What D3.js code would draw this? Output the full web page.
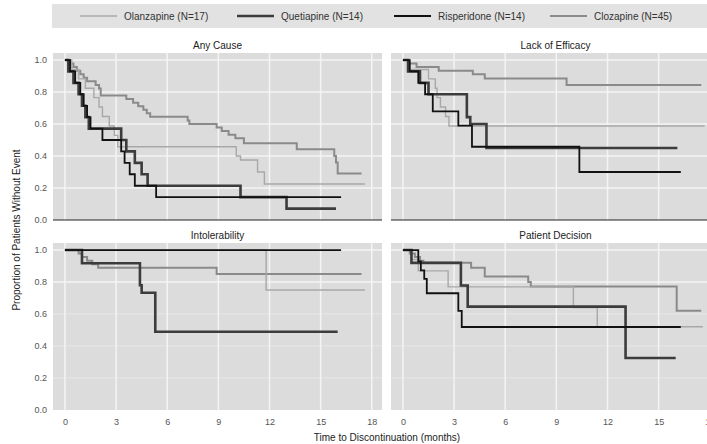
<!DOCTYPE html>
<html>
<head>
<meta charset="utf-8">
<style>
  body { margin: 0; background: #fff; }
  text { font-family: "Liberation Sans", Arial, sans-serif; }
  .tick text { fill: #555; font-size: 9px; }
</style>
</head>
<body>
<svg id="chart" width="707" height="444"></svg>
<script src="https://cdn.jsdelivr.net/npm/d3@7"></script>
<script>
// series (legend order) and panel titles
const drugs = ["Olanzapine (N=17)", "Quetiapine (N=14)", "Risperidone (N=14)", "Clozapine (N=45)"]
const drugColors = ["#a8a8a8", "#3c3c3c", "#111111", "#8a8a8a"]
const drugWidths = [1.4, 2.6, 1.8, 2]
const panelTitles = ["Any Cause", "Lack of Efficacy", "Intolerability", "Patient Decision"]
const xTicks = [0, 3, 6, 9, 12, 15, 18]
const yTicks = [0, 0.2, 0.4, 0.6, 0.8, 1.0]

// Kaplan-Meier steps [months, proportion]; last point = end of follow-up
const anyOlz = [[0,1],[0.4,0.941],[0.8,0.882],[1.2,0.824],[1.7,0.765],[2.0,0.706],[2.2,0.647],[2.6,0.588],[2.9,0.529],[3.1,0.458],[10.05,0.40],[10.3,0.375],[11.3,0.30],[11.7,0.225],[17.6,0.225]]
const anyQue = [[0,1],[0.2,0.929],[0.5,0.857],[0.8,0.786],[1.0,0.714],[1.2,0.643],[1.4,0.571],[3.3,0.50],[3.6,0.429],[4.1,0.357],[4.5,0.286],[4.85,0.214],[10.3,0.143],[13.0,0.071],[15.9,0.071]]
const anyRis = [[0,1],[0.3,0.929],[0.6,0.857],[0.9,0.786],[1.1,0.714],[1.3,0.643],[1.5,0.571],[2.2,0.50],[3.3,0.429],[3.5,0.357],[3.8,0.286],[4.1,0.214],[5.35,0.143],[16.2,0.143]]
const anyClz = [[0,1],[0.3,0.978],[0.5,0.956],[0.7,0.933],[0.9,0.911],[1.1,0.889],[1.3,0.867],[1.8,0.844],[2.0,0.822],[2.1,0.778],[3.6,0.756],[4.0,0.733],[4.3,0.711],[4.6,0.689],[4.8,0.667],[5.0,0.646],[7.2,0.622],[7.3,0.60],[8.9,0.578],[9.2,0.556],[9.6,0.533],[10.0,0.511],[10.5,0.48],[13.6,0.442],[15.8,0.40],[15.9,0.36],[16.0,0.29],[17.4,0.29]]

const effOlz = [[0,1],[0.3,0.941],[1.5,0.882],[1.9,0.824],[2.0,0.765],[2.2,0.706],[2.5,0.647],[2.7,0.588],[17.7,0.588]]
const effQue = [[0,1],[0.3,0.929],[1.0,0.857],[1.5,0.786],[3.75,0.643],[3.95,0.60],[4.9,0.45],[16.1,0.45]]
const effRis = [[0,1],[0.4,0.929],[0.9,0.857],[1.3,0.786],[1.75,0.679],[3.25,0.59],[4.05,0.458],[10.35,0.30],[16.3,0.30]]
const effClz = [[0,1],[0.3,0.978],[0.8,0.956],[2.1,0.933],[4.1,0.911],[4.8,0.885],[9.6,0.844],[17.5,0.844]]

const intOlz = [[0,1],[11.8,0.75],[17.6,0.75]]
const intQue = [[0,1],[1.0,0.917],[4.4,0.78],[4.5,0.733],[5.3,0.489],[16.0,0.489]]
const intRis = [[0,1],[16.2,1]]
const intClz = [[0,1],[0.8,0.978],[1.0,0.956],[1.3,0.933],[1.6,0.911],[1.95,0.889],[8.9,0.85],[17.4,0.85]]

const decOlz = [[0,1],[0.5,0.941],[0.9,0.87],[2.65,0.77],[10.0,0.64],[11.4,0.52],[17.6,0.52]]
const decQue = [[0,1],[0.5,0.92],[3.4,0.778],[3.8,0.646],[13.06,0.325],[16.0,0.325]]
const decRis = [[0,1],[0.9,0.929],[1.05,0.873],[1.25,0.82],[1.4,0.73],[3.25,0.62],[3.45,0.519],[16.3,0.519]]
const decClz = [[0,1],[0.4,0.978],[0.7,0.956],[1.0,0.933],[1.2,0.92],[4.0,0.89],[4.8,0.835],[7.35,0.80],[7.5,0.772],[16.06,0.62],[17.5,0.62]]

const panelData = [
  [anyOlz, anyQue, anyRis, anyClz],
  [effOlz, effQue, effRis, effClz],
  [intOlz, intQue, intRis, intClz],
  [decOlz, decQue, decRis, decClz]
]

let svg = d3.select("#chart")

let pw = 329, ph = 167
let colX = [53, 391], rowY = [53, 243]

let x = d3.scaleLinear().domain([-0.7, 18.6]).range([0, pw])
let y = d3.scaleLinear().domain([0, 1.044]).range([ph, 0])

let line = d3.line()
  .x(d => x(d[0]))
  .y(d => y(d[1]))
  .curve(d3.curveStepAfter)

// legend
let legend = svg.append("g")
legend.append("rect")
  .attr("x", 52).attr("y", 4).attr("width", 660).attr("height", 24)
  .attr("fill", "#e2e2e2")
let legX = [80, 237, 394, 550]
drugs.forEach((name, i) => {
  legend.append("line")
    .attr("x1", legX[i]).attr("x2", legX[i] + 37)
    .attr("y1", 16).attr("y2", 16)
    .attr("stroke", drugColors[i]).attr("stroke-width", drugWidths[i])
  legend.append("text")
    .attr("x", legX[i] + 44).attr("y", 19.5)
    .attr("font-size", 10).attr("fill", "#333")
    .text(name)
})

// draw order: clozapine, olanzapine, quetiapine, risperidone
let drawOrder = [3, 0, 1, 2]

panelTitles.forEach((title, p) => {
  let col = p % 2, row = Math.floor(p / 2)
  let g = svg.append("g").attr("transform", `translate(${colX[col]},${rowY[row]})`)

  g.append("clipPath").attr("id", "clip" + p)
    .append("rect").attr("width", pw).attr("height", ph)

  g.append("rect").attr("width", pw).attr("height", ph).attr("fill", "#dcdcdc")

  g.selectAll(".vgrid").data(xTicks).enter().append("line")
    .attr("x1", d => x(d)).attr("x2", d => x(d))
    .attr("y1", 0).attr("y2", ph)
    .attr("stroke", "#f4f4f4").attr("stroke-width", 1.5)

  g.selectAll(".hgrid").data(yTicks.filter(d => d > 0)).enter().append("line")
    .attr("x1", 0).attr("x2", pw)
    .attr("y1", d => y(d)).attr("y2", d => y(d))
    .attr("stroke", "#f4f4f4").attr("stroke-width", 1.5)
    .attr("opacity", d => (row == 1 && d != 0.8 && d != 1.0) ? 0.35 : 1)

  if (row == 0) {
    g.append("line").attr("x1", 0).attr("x2", pw).attr("y1", ph).attr("y2", ph)
      .attr("stroke", "#222").attr("stroke-width", 1)
  }

  let curves = g.append("g").attr("clip-path", `url(#clip${p})`)
  drawOrder.forEach(i => {
    curves.append("path")
      .attr("d", line(panelData[p][i]))
      .attr("fill", "none")
      .attr("stroke", drugColors[i])
      .attr("stroke-width", drugWidths[i])
  })

  g.append("text")
    .attr("x", pw / 2).attr("y", -4)
    .attr("text-anchor", "middle").attr("font-size", 10).attr("fill", "#222")
    .text(title)

  if (col == 0) {
    let ya = g.append("g").attr("transform", "translate(-3,0)")
      .call(d3.axisLeft(y).tickValues(yTicks).tickFormat(d3.format(".1f")).tickSize(0))
    ya.select(".domain").remove()
  }
  if (row == 1) {
    let xa = g.append("g").attr("transform", `translate(0,${ph + 6})`)
      .call(d3.axisBottom(x).tickValues(xTicks).tickSize(0))
    xa.select(".domain").remove()
  }
})

svg.append("text")
  .attr("transform", "translate(20,230) rotate(-90)")
  .attr("text-anchor", "middle").attr("font-size", 10).attr("fill", "#222")
  .text("Proportion of Patients Without Event")

svg.append("text")
  .attr("x", 387).attr("y", 441)
  .attr("text-anchor", "middle").attr("font-size", 10).attr("fill", "#222")
  .text("Time to Discontinuation (months)")
</script>
</body>
</html>
